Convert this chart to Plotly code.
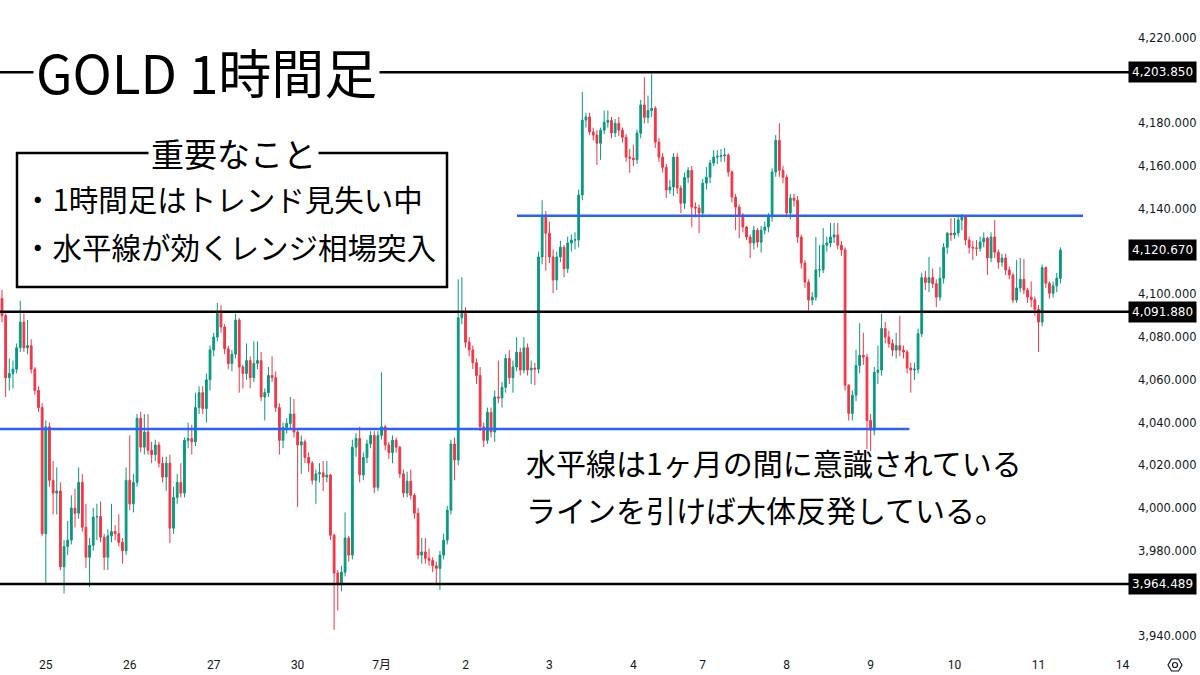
import plotly.graph_objects as go

# ---------------- data ----------------
first_open = 4098
closes = [
    4090, 4061, 4063, 4065, 4075, 4087, 4075, 4076, 4065, 4055,
    4047, 3988, 4038, 4013, 4007, 4008, 3972.5, 3982, 3985, 4000,
    3997.6, 4012, 3991, 3977, 3982.6, 3995.8, 3996, 3986.4, 3977, 3987,
    3989, 3988, 3984, 3980, 4013, 4002, 4012, 4042, 4028.5, 4035.6,
    4027, 4025, 4029.5, 4021, 4014.5, 4021, 3990.6, 4005, 4012, 4007,
    4031.7, 4032.5, 4031, 4047, 4054, 4046.6, 4060, 4074, 4080, 4091,
    4084.7, 4074.5, 4067.6, 4072, 4088, 4066, 4063, 4069, 4061, 4067.7,
    4069, 4052, 4054, 4062, 4061, 4047, 4031.7, 4037.7, 4039.6, 4044,
    4035.6, 4029.5, 4031, 4023.7, 4021, 4013, 4016, 4016.5, 4014.5, 4015.5,
    3987.3, 3969.6, 3965, 3970, 3986, 3978, 4028.5, 4032.6, 4015.5, 4023.7,
    4030, 4034, 4009.7, 4034, 4038, 4029.5, 4026, 4031.7, 4028.5, 4016,
    4007, 4012.6, 4006, 3997.6, 3978, 3979.5, 3976.5, 3975.5, 3973, 3971.8,
    3978, 3985, 3999, 4030, 4022.5, 4089, 4091, 4077.6, 4074, 4068,
    4062, 4038, 4031.7, 4044.8, 4035.6, 4052, 4051.5, 4056.5, 4070, 4061,
    4066, 4072.9, 4064.6, 4075, 4064.6, 4065.5, 4065, 4117.5, 4137, 4128.6,
    4117.5, 4106.7, 4117.5, 4122, 4112, 4124, 4125.4, 4125.5, 4146.5, 4181.5,
    4183, 4176, 4174.5, 4170.7, 4176.8, 4180.5, 4181.3, 4175.5, 4180, 4176.8,
    4173.5, 4164.2, 4163.7, 4163, 4175.4, 4188.6, 4182.8, 4186, 4187, 4171.2,
    4164.2, 4159.4, 4148.8, 4150.2, 4164.2, 4149.7, 4142.6, 4154.7, 4158, 4140.8,
    4140.4, 4138, 4152, 4154.8, 4161.4, 4164.2, 4164.6, 4164.8, 4165.2, 4157.2,
    4145.5, 4140.8, 4137, 4131.5, 4126.8, 4124, 4130, 4124.4, 4130, 4131.5,
    4136.2, 4157.2, 4172, 4158, 4154.8, 4138, 4145, 4144, 4126.8, 4114.6,
    4105.7, 4097.3, 4098.7, 4111.4, 4111.5, 4123, 4124, 4126.8, 4127.8, 4123,
    4120.8, 4057.5, 4044.3, 4052.8, 4066.7, 4071.5, 4070.6, 4041, 4036.4, 4063.5,
    4064.6, 4084, 4080, 4077, 4073.9, 4076, 4073.9, 4073, 4065.5, 4064.6,
    4065, 4081.6, 4107.8, 4105.5, 4107.8, 4105, 4098.7, 4107.5, 4122, 4128.6,
    4127.8, 4128.7, 4134.8, 4136.2, 4125.4, 4122, 4121.7, 4121.5, 4124.5, 4126.3,
    4117, 4126.8, 4119.7, 4115, 4117, 4111.4, 4109, 4097.3, 4103, 4107,
    4102, 4098.7, 4097.5, 4093, 4087, 4112.5, 4105.2, 4100.5, 4104, 4107.5,
    4120.67,
]
highs = [
    4102, 4091, 4070, 4069, 4077, 4097, 4091, 4088, 4079, 4066,
    4057, 4049, 4041, 4040, 4022, 4019, 4012, 3985, 3994, 4006,
    4009, 4019, 4016, 4002, 3986, 4000, 4002, 4003, 3988, 3990,
    4002, 3992, 3997, 3986, 4019, 4034, 4016, 4044, 4045, 4044,
    4044, 4031, 4032, 4031, 4024, 4024, 4025, 4010, 4016, 4021,
    4033, 4040, 4039, 4054, 4057, 4057, 4063, 4076, 4082, 4096,
    4095, 4086, 4076, 4074, 4091, 4089, 4067, 4077, 4071, 4078,
    4078, 4073, 4056, 4066, 4071, 4064, 4049, 4040, 4042, 4052,
    4051, 4037, 4034, 4032, 4026, 4022, 4018, 4021, 4022, 4022,
    4016, 3988, 3971, 3973, 3998, 3987, 4032, 4035, 4038, 4026,
    4032, 4036, 4036, 4036, 4063.5, 4039, 4031, 4034, 4033, 4029,
    4018, 4017, 4018, 4007, 4000, 3986, 3986, 3981, 3977, 3975,
    3980, 3988, 4001, 4032, 4033, 4107, 4108, 4094, 4080, 4076,
    4070, 4066, 4040, 4047, 4047, 4055, 4069, 4059, 4072, 4074,
    4069, 4080, 4075, 4080, 4077, 4069, 4068, 4120, 4144, 4139,
    4134, 4121, 4120, 4125, 4123, 4127, 4128, 4129, 4149, 4194.7,
    4185, 4185, 4178, 4176.8, 4178, 4186, 4186, 4183, 4182, 4183,
    4178, 4175, 4168, 4170, 4177, 4191, 4201.6, 4193, 4203, 4188,
    4173, 4166, 4161, 4153.5, 4166, 4166, 4151, 4157, 4159.5, 4160,
    4143, 4142, 4154, 4159.5, 4163, 4167.5, 4167.5, 4168, 4168.4, 4166,
    4158, 4147, 4142, 4138, 4132, 4128, 4132, 4131, 4132, 4134,
    4138, 4159, 4174.5, 4180, 4160, 4156, 4147, 4147, 4146, 4128,
    4116, 4107, 4101, 4126.8, 4123, 4131, 4127, 4133.4, 4133.4, 4133.4,
    4125, 4122, 4058, 4055, 4074, 4086.5, 4082, 4072, 4044, 4066,
    4076, 4091, 4087, 4083, 4079, 4082, 4090, 4076, 4074, 4068,
    4068, 4084, 4110, 4111, 4117.5, 4112, 4107, 4112.8, 4124, 4129.1,
    4135.7, 4135.7, 4137.2, 4137.6, 4137, 4127, 4125, 4125.4, 4127, 4129,
    4127, 4129, 4134.8, 4121, 4119, 4119, 4113, 4110, 4116, 4117,
    4116.5, 4103, 4106, 4099, 4095, 4114, 4113, 4106, 4106, 4110,
    4122,
]
lows = [
    4087, 4052, 4055, 4056, 4063, 4073, 4073, 4072, 4063, 4053,
    4045, 3987, 3965, 4010, 3997, 3997, 3971, 3960, 3978, 3983,
    3991, 3995, 3989, 3972, 3963, 3980, 3985, 3984, 3971, 3971,
    3984, 3985, 3982, 3974, 3978, 3999, 3998, 4010, 4026, 4025,
    4025, 4021, 4022, 4019, 4012, 4008, 3983.6, 3988, 4002, 4005,
    4005, 4028, 4025, 4029, 4044, 4044, 4040, 4055, 4071, 4078,
    4082, 4072, 4065, 4064, 4070, 4054, 4056, 4060, 4056, 4059,
    4065, 4050, 4041, 4052, 4059, 4045, 4025, 4028, 4035, 4037,
    4033, 4000.5, 4016, 4021, 4017, 4011, 4002, 4012, 4008, 4012,
    3985, 3943, 3952, 3961, 3968, 3975, 3976, 4024, 4012, 4013,
    4021, 4028, 4007, 4008, 4032, 4027, 4023, 4021, 4026, 4014,
    4005, 4005, 4004, 3995, 3976, 3974, 3974, 3973, 3970, 3964,
    3961.7, 3976, 3983, 3997, 4013, 4020, 4086, 4075, 4071, 4065,
    4058, 4036, 4028.5, 4030, 4033, 4031, 4049, 4047, 4054, 4058,
    4054, 4064, 4062, 4063, 4062, 4058, 4057.5, 4063, 4114, 4111,
    4114.6, 4100.5, 4102, 4115, 4108, 4110, 4120, 4121, 4122, 4144,
    4178, 4174.5, 4172, 4160.5, 4162.9, 4175, 4178, 4173, 4173.5, 4174,
    4171, 4162, 4156.8, 4160, 4161, 4173, 4180, 4180, 4183, 4168.4,
    4162, 4157, 4145, 4147, 4146, 4147, 4138, 4140, 4152, 4131.4,
    4136, 4128.6, 4136, 4149, 4152, 4160, 4161, 4162, 4162, 4155,
    4143, 4130, 4126.3, 4129, 4125.4, 4117, 4121, 4122, 4119.5, 4128,
    4129, 4134, 4155, 4155, 4152, 4136, 4135, 4141, 4124, 4112,
    4103, 4092.5, 4095, 4097, 4108, 4110, 4120, 4122, 4124, 4121,
    4118, 4055, 4041, 4041, 4050, 4063, 4067, 4027.6, 4026.7, 4034,
    4058, 4062, 4077, 4075, 4071, 4070, 4071, 4070, 4063, 4054,
    4060, 4063, 4080, 4102, 4101, 4103, 4094, 4097, 4105, 4119,
    4125, 4126, 4127, 4130, 4123, 4119, 4116, 4118, 4120, 4122,
    4109, 4115, 4117, 4112, 4113, 4109, 4107, 4096, 4096, 4101,
    4100, 4096, 4094, 4090, 4073, 4085, 4103, 4098, 4098.5, 4101,
    4105,
]

day_tick_bars = [12, 35, 58, 81, 104, 127, 150, 173, 192, 215, 238, 261, 284, 307]
day_labels = ["25", "26", "27", "30", "7月", "2", "3", "4", "7", "8", "9", "10", "11", "14"]
# 3,960 / 4,120 / 4,200 sit behind the highlighted price labels in the reference
price_ticks = [3940, 3980, 4000, 4020, 4040, 4060, 4080, 4100,
               4140, 4160, 4180, 4220]

black_levels = [4203.85, 4091.88, 3964.489]
blue_upper = 4136.8
blue_lower = 4037.0
last_price = 4120.67

title_text = "GOLD 1時間足"
box_title = "重要なこと"
box_lines = ["・1時間足はトレンド見失い中", "・水平線が効くレンジ相場突入"]
note_lines = ["水平線は1ヶ月の間に意識されている", "ラインを引けば大体反発している。"]

# ---------------- figure ----------------
assert len(closes) == len(highs) == len(lows)
n = len(closes)
opens = [first_open] + closes[:-1]
bars = list(range(n))

W, H = 1200, 675
ML, MR, MT, MB = 0, 75, 0, 25
PW, PH = W - ML - MR, H - MT - MB


def px(xp):
    return xp / PW


def py(yp):
    return 1 - yp / PH


GREEN = "#089981"
RED = "#F23645"
BLUE = "#2962FF"
TXT = "#131722"
JP = "Noto Sans CJK JP, Noto Sans, sans-serif"
NUM = "DejaVu Sans, Verdana, sans-serif"

fig = go.Figure(go.Candlestick(
    x=bars, open=opens, high=highs, low=lows, close=closes,
    increasing=dict(line=dict(color=GREEN, width=1), fillcolor=GREEN),
    decreasing=dict(line=dict(color=RED, width=1), fillcolor=RED),
    whiskerwidth=0, hoverinfo="skip", showlegend=False,
))

shapes = []
for lv in black_levels:
    shapes.append(dict(type="line", xref="paper", yref="y", x0=0, x1=1.004,
                       y0=lv, y1=lv, line=dict(color="#000000", width=2.5),
                       layer="above"))
shapes.append(dict(type="line", xref="x", yref="y", x0=141.1, x1=296.2,
                   y0=blue_upper, y1=blue_upper, line=dict(color=BLUE, width=2.5),
                   layer="above"))
shapes.append(dict(type="line", xref="x", yref="y", x0=-0.6, x1=248.6,
                   y0=blue_lower, y1=blue_lower, line=dict(color=BLUE, width=2.5),
                   layer="above"))
# info box
shapes.append(dict(type="rect", xref="paper", yref="paper",
                   x0=px(17), x1=px(447), y0=py(287), y1=py(153),
                   line=dict(color="#000000", width=2.5), fillcolor="white",
                   layer="above"))
# settings icon (hexagon + circle) at bottom right
shapes.append(dict(type="path", xref="paper", yref="paper", xsizemode="pixel",
                   ysizemode="pixel", xanchor=1, yanchor=0,
                   path="M 57 -15 L 53.5 -9 L 46.5 -9 L 43 -15 L 46.5 -21 L 53.5 -21 Z",
                   line=dict(color=TXT, width=1.2)))
shapes.append(dict(type="circle", xref="paper", yref="paper", xsizemode="pixel",
                   ysizemode="pixel", xanchor=1, yanchor=0,
                   x0=47.5, x1=52.5, y0=-17.5, y1=-12.5,
                   line=dict(color=TXT, width=1.2)))

annotations = []
annotations.append(dict(text=title_text, xref="paper", yref="paper",
                        x=px(33), y=py(71), xanchor="left", yanchor="middle",
                        showarrow=False, bgcolor="white", borderpad=2,
                        font=dict(family=JP, size=53, color="#000000")))
annotations.append(dict(text=box_title, xref="paper", yref="paper",
                        x=px(233), y=py(153), xanchor="center", yanchor="middle",
                        showarrow=False, bgcolor="white", borderpad=2,
                        font=dict(family=JP, size=33, color="#000000")))
for i, t in enumerate(box_lines):
    annotations.append(dict(text=t, xref="paper", yref="paper",
                            x=px(21), y=py(198 + 48 * i), xanchor="left",
                            yanchor="middle", showarrow=False,
                            font=dict(family=JP, size=29.5, color="#000000")))
for i, t in enumerate(note_lines):
    annotations.append(dict(text=t, xref="paper", yref="paper",
                            x=px(524), y=py(462 + 47 * i), xanchor="left",
                            yanchor="middle", showarrow=False,
                            font=dict(family=JP, size=30, color="#000000")))
for lv in black_levels + [last_price]:
    annotations.append(dict(text=f"{lv:,.3f}", xref="paper", yref="y",
                            x=1.003, y=lv, xanchor="left", yanchor="middle",
                            showarrow=False, bgcolor="#000000", borderpad=3,
                            font=dict(family=NUM, size=12, color="white")))

fig.update_layout(
    width=W, height=H,
    margin=dict(l=ML, r=MR, t=MT, b=MB),
    paper_bgcolor="white", plot_bgcolor="white",
    shapes=shapes, annotations=annotations,
    xaxis=dict(range=[-0.55, 307.7], rangeslider=dict(visible=False),
               tickmode="array", tickvals=day_tick_bars, ticktext=day_labels,
               showgrid=False, zeroline=False, showline=False, ticks="",
               ticklabelstandoff=6,
               tickfont=dict(family="Roboto, Noto Sans CJK JP, sans-serif",
                             size=12, color=TXT)),
    yaxis=dict(range=[3933.6, 4237.7], side="right", tickmode="array",
               tickvals=price_ticks, tickformat=",.3f", showgrid=False,
               zeroline=False, showline=False, ticks="", ticklabelstandoff=12,
               tickfont=dict(family=NUM, size=11.5, color=TXT)),
)

fig.write_html("out.html")
